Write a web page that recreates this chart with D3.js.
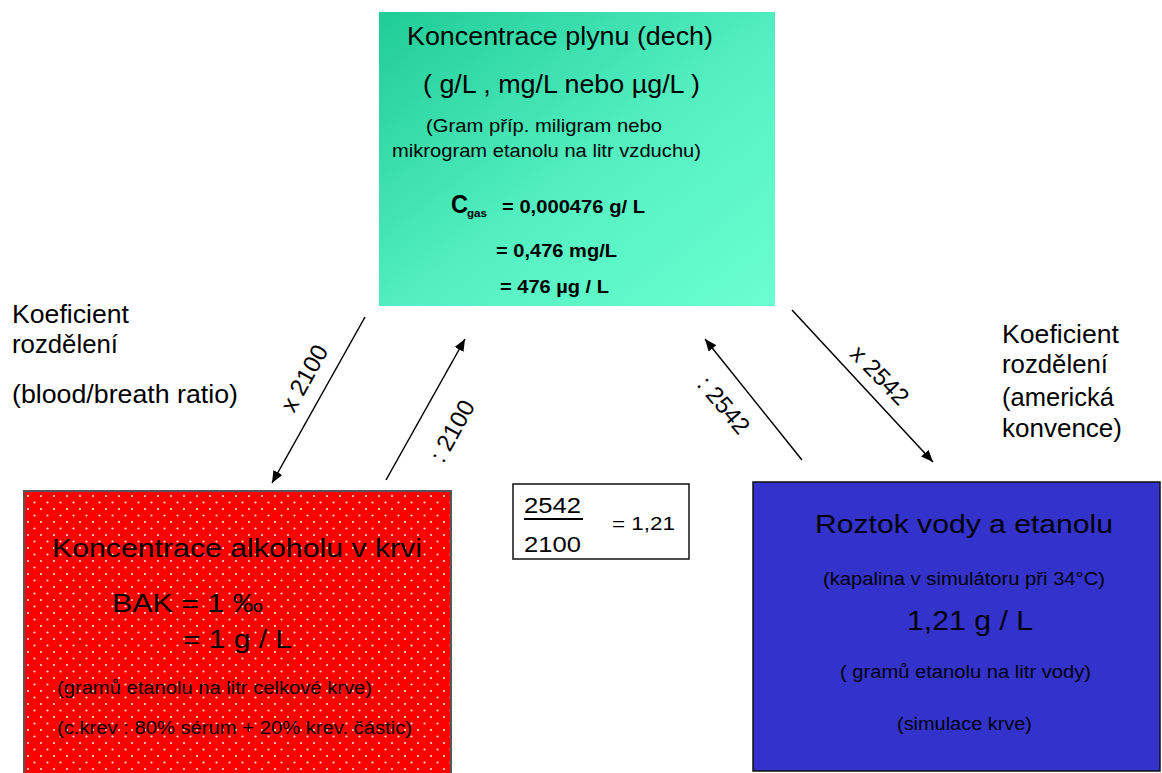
<!DOCTYPE html>
<meta charset="utf-8">
<script src="https://d3js.org/d3.v7.min.js"></script>
<style>
  body { margin: 0; background: #fff; }
  text { font-family: "Liberation Sans", Arial, sans-serif; fill: #000; }
</style>
<body>
<div id="svg"></div>
<script>
// boxes of the diagram
var boxNames = ["dech", "krev", "roztok", "pomer"];
var boxFills = ["url(#zelena)", "url(#tecky)", "#3333cc", "#fff"];
var boxStrokes = ["none", "#555", "#111", "#111"];

// texts: [text, x, baseline, size, width, bold]
var dechTexts = [
  ["Koncentrace plynu (dech)", 407, 45, 25.5, 306, 0],
  ["( g/L , mg/L nebo µg/L )", 423, 93, 25.5, 277, 0],
  ["(Gram příp. miligram nebo", 426, 132, 18.5, 236, 0],
  ["mikrogram etanolu na litr vzduchu)", 392, 157, 18.5, 309, 0],
  ["C", 451, 213, 25, 17, 1],
  ["gas", 467, 217, 10, 20, 1],
  ["= 0,000476 g/ L", 502, 213, 18, 143, 1],
  ["= 0,476 mg/L", 496, 257, 18, 121, 1],
  ["= 476 µg / L", 500, 293, 18, 109, 1]
];
var krevTexts = [
  ["Koncentrace alkoholu v krvi", 52, 557, 25.5, 370, 0],
  ["BAK = 1 ‰", 112, 612, 25.5, 151, 0],
  ["= 1 g / L", 183, 648, 25.5, 109, 0],
  ["(gramů etanolu na litr celkové krve)", 57, 694, 18, 315, 0],
  ["(c.krev : 80% sérum + 20% krev. částic)", 57, 734, 18, 355, 0]
];
var roztokTexts = [
  ["Roztok vody a etanolu", 815, 533, 25.5, 298, 0],
  ["(kapalina v simulátoru při 34°C)", 823, 585, 18, 282, 0],
  ["1,21 g / L", 907, 630, 27.5, 126, 0],
  ["( gramů etanolu na litr vody)", 840, 678, 18, 251, 0],
  ["(simulace krve)", 897, 730, 18, 135, 0]
];
var pomerTexts = [
  ["2542", 524, 513, 22, 57, 0],
  ["2100", 524, 552, 22, 57, 0],
  ["= 1,21", 612, 530, 18, 63, 0]
];
var koefTexts = [
  ["Koeficient", 12, 323, 26, 117, 0],
  ["rozdělení", 12, 353, 26, 106, 0],
  ["(blood/breath ratio)", 12, 403, 26, 226, 0],
  ["Koeficient", 1002, 343, 26, 117, 0],
  ["rozdělení", 1002, 373, 26, 106, 0],
  ["(americká", 1002, 406, 26, 112, 0],
  ["konvence)", 1002, 437, 26, 120, 0]
];
// arrows: label, start, tip, label centre, label angle
var arrowLabels = ["x 2100", ": 2100", ": 2542", "x 2542"];
var arrowFrom = [[365, 317], [386, 480], [802, 460], [792, 310]];
var arrowTo = [[272, 483], [465, 339], [705, 339], [933, 462]];
var labelAt = [[304, 378], [452, 431], [724, 405], [880, 375]];
var labelAngle = [-61, -61, 50, 46];

var W = 1162, H = 773;
var svg = d3.select("#svg").append("svg").attr("width", W).attr("height", H);
var defs = svg.append("defs");

var grad = defs.append("linearGradient").attr("id", "zelena")
  .attr("x1", 0).attr("y1", 0).attr("x2", 1).attr("y2", 1);
grad.append("stop").attr("offset", "0%").attr("stop-color", "#1fcc96");
grad.append("stop").attr("offset", "55%").attr("stop-color", "#55f0c2");
grad.append("stop").attr("offset", "100%").attr("stop-color", "#6affd0");

var pat = defs.append("pattern").attr("id", "tecky").attr("patternUnits", "userSpaceOnUse")
  .attr("x", 24).attr("y", 491).attr("width", 13).attr("height", 13);
pat.append("rect").attr("width", 13).attr("height", 13).attr("fill", "#ff0000");
pat.append("circle").attr("cx", 4).attr("cy", 5).attr("r", 1.1).attr("fill", "#ffe0e0");
pat.append("circle").attr("cx", 10.5).attr("cy", 11.5).attr("r", 1.1).attr("fill", "#ffe0e0");

defs.append("marker").attr("id", "sipka").attr("viewBox", "0 0 12 10")
  .attr("refX", 12).attr("refY", 5).attr("markerWidth", 12).attr("markerHeight", 10)
  .attr("markerUnits", "userSpaceOnUse").attr("orient", "auto")
  .append("path").attr("d", "M0,0 L12,5 L0,10 Z").attr("fill", "#000");

// box geometry
var boxRects = [[379, 12, 396, 294], [24, 491, 427, 300], [753, 482, 407, 289], [513, 484, 176, 75]];
svg.selectAll("rect.box").data(boxNames).enter().append("rect").attr("class", "box")
  .attr("x", function (d, i) { return boxRects[i][0]; })
  .attr("y", function (d, i) { return boxRects[i][1]; })
  .attr("width", function (d, i) { return boxRects[i][2]; })
  .attr("height", function (d, i) { return boxRects[i][3]; })
  .attr("fill", function (d, i) { return boxFills[i]; })
  .attr("stroke", function (d, i) { return boxStrokes[i]; })
  .attr("stroke-width", function (d, i) { return i == 1 ? 2 : 1.5; });

function putTexts(rows) {
  svg.append("g").selectAll("text").data(rows).enter().append("text")
    .attr("x", function (d) { return d[1]; })
    .attr("y", function (d) { return d[2]; })
    .attr("font-size", function (d) { return d[3]; })
    .attr("font-weight", function (d) { return d[5] ? "bold" : "normal"; })
    .attr("textLength", function (d) { return d[4]; })
    .attr("lengthAdjust", "spacingAndGlyphs")
    .text(function (d) { return d[0]; });
}
putTexts(dechTexts);
putTexts(krevTexts);
putTexts(roztokTexts);
putTexts(pomerTexts);
putTexts(koefTexts);

// fraction bar
svg.append("line").attr("x1", 524).attr("x2", 583).attr("y1", 519).attr("y2", 519)
  .attr("stroke", "#000").attr("stroke-width", 2);

// arrows
svg.selectAll("line.arrow").data(arrowLabels).enter().append("line").attr("class", "arrow")
  .attr("x1", function (d, i) { return arrowFrom[i][0]; })
  .attr("y1", function (d, i) { return arrowFrom[i][1]; })
  .attr("x2", function (d, i) { return arrowTo[i][0]; })
  .attr("y2", function (d, i) { return arrowTo[i][1]; })
  .attr("stroke", "#000").attr("stroke-width", 1.5)
  .attr("marker-end", "url(#sipka)");

svg.selectAll("text.lab").data(arrowLabels).enter().append("text").attr("class", "lab")
  .attr("transform", function (d, i) {
    return "translate(" + labelAt[i][0] + "," + labelAt[i][1] + ") rotate(" + labelAngle[i] + ")";
  })
  .attr("text-anchor", "middle").attr("dominant-baseline", "central")
  .attr("font-size", 24)
  .text(function (d) { return d; });
</script>
</body>
